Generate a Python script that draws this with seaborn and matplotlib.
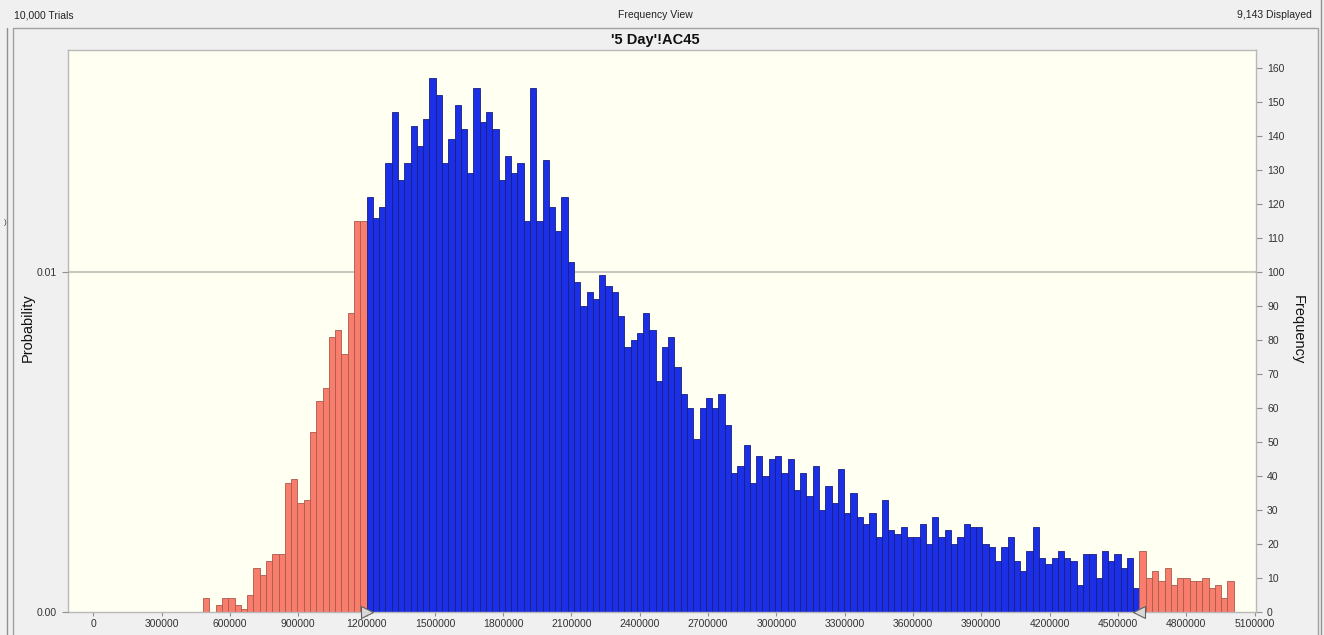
import numpy as np
import pandas as pd
import matplotlib
matplotlib.use("Agg")
import matplotlib.pyplot as plt
from matplotlib.patches import Rectangle
from matplotlib.lines import Line2D
import seaborn as sns

# histogram counts (bin width ~27,600)
bin_start = 482400
bin_width = 27600
left_tail = [4, 0, 2, 4, 4, 2, 1, 5, 13, 11, 15, 17, 17, 38, 39, 32, 33, 53, 62, 66,
             81, 83, 76, 88, 115, 115]
middle = [122, 116, 119, 132, 147, 127, 132, 143, 137, 145,
          157, 152, 132, 139, 149, 142, 129, 154, 144, 147,
          142, 127, 134, 129, 132, 115, 154, 115, 133, 119,
          112, 122, 103, 97, 90, 94, 92, 99, 96, 94,
          87, 78, 80, 82, 88, 83, 68, 78, 81, 72,
          64, 60, 51, 60, 63, 60, 64, 55, 41, 43,
          49, 38, 46, 40, 45, 46, 41, 45, 36, 41,
          34, 43, 30, 37, 32, 42, 29, 35, 28, 26,
          29, 22, 33, 24, 23, 25, 22, 22, 26, 20,
          28, 22, 24, 20, 22, 26, 25, 25, 20, 19,
          15, 19, 22, 15, 12, 18, 25, 16, 14, 16,
          18, 16, 15, 8, 17, 17, 10, 18, 15, 17,
          13, 16, 7]
right_tail = [18, 10, 12, 9, 13, 8, 10, 10, 9, 9, 10, 7, 8, 4, 9]

x_ticks = list(range(0, 5100001, 300000))
freq_ticks = list(range(0, 161, 10))
prob_ticks = [0.0, 0.01]
prob_labels = ["0.00", "0.01"]

header_left = "10,000 Trials"
header_mid = "Frequency View"
header_right = "9,143 Displayed"
title = "'5 Day'!AC45"

sns.set_style("white")
plt.rcParams["font.family"] = ["Liberation Sans", "DejaVu Sans"]

counts = left_tail + middle + right_tail
edges = bin_start + bin_width * np.arange(len(counts) + 1)
centers = (edges[:-1] + edges[1:]) / 2
zone = ["tail"] * len(left_tail) + ["mid"] * len(middle) + ["tail"] * len(right_tail)
df = pd.DataFrame({"value": centers, "count": counts, "zone": zone})

W, H = 1324, 635
fig = plt.figure(figsize=(W / 100, H / 100), dpi=100, facecolor="#f0f0f0")

# panel frame
fig.add_artist(Rectangle((13 / W, -0.01), (1318 - 13) / W, 1 - 28 / H + 0.01,
                         transform=fig.transFigure, fill=False, ec="#a0a0a0", lw=1))
fig.add_artist(Line2D([6.5 / W, 6.5 / W], [0, 1 - 28 / H], transform=fig.transFigure,
                      color="#909090", lw=1))
fig.add_artist(Line2D([1321 / W, 1321 / W], [0, 1], transform=fig.transFigure,
                      color="#909090", lw=1))

ax = fig.add_axes([68 / W, 1 - 612 / H, (1256 - 68) / W, (612 - 50) / H])
ax.set_facecolor("#fffff2")

n1 = len(left_tail)
n2 = n1 + len(middle)
parts = [
    (df.iloc[:n1], edges[:n1 + 1], "#f87d6c", "#a85a4c"),
    (df.iloc[n1:n2], edges[n1:n2 + 1], "#1b2fe6", "#1a1f80"),
    (df.iloc[n2:], edges[n2:], "#f87d6c", "#a85a4c"),
]
for part, bins, fc, ec in parts:
    sns.histplot(data=part, x="value", weights="count", bins=[float(b) for b in bins], ax=ax,
                 color=fc, edgecolor=ec, linewidth=0.6, alpha=1, zorder=2)

ax.axhline(100, color="#c8c8c0", lw=1.5, zorder=0)

# probability axis on the left (frequency / 10000)
axp = ax.twinx()
axp.set_ylim(0, 562 / 3.4 / 10000)
axp.yaxis.tick_left()
axp.set_yticks(prob_ticks)
axp.set_yticklabels(prob_labels)
axp.tick_params(axis="y", length=4, width=0.8, color="#909090", labelsize=7.5,
                labelcolor="#333333", pad=4, left=True, right=False,
                labelleft=True, labelright=False)
for s in axp.spines.values():
    s.set_visible(False)

ax.set_xlim(-111500, 5106500)
ax.set_ylim(0, 562 / 3.4)
ax.set_xticks(x_ticks)
ax.set_xticklabels([str(t) for t in x_ticks])
ax.yaxis.tick_right()
ax.set_yticks(freq_ticks)
ax.set_xlabel("")
ax.set_ylabel("")
ax.tick_params(axis="x", length=3, width=0.8, color="#909090", labelsize=7.5,
               labelcolor="#333333", pad=2, bottom=True)
ax.tick_params(axis="y", length=4, width=0.8, color="#909090", labelsize=7.5,
               labelcolor="#333333", pad=4, right=True, left=False,
               labelright=True, labelleft=False)
for s in ax.spines.values():
    s.set_color("#b8b8b8")
    s.set_linewidth(1)

# threshold markers
ax.plot([edges[n1]], [0], marker=">", ms=8, mfc="#d8d8d8", mec="#606060", mew=0.8,
        clip_on=False, zorder=5)
ax.plot([edges[n2]], [0], marker="<", ms=8, mfc="#d8d8d8", mec="#606060", mew=0.8,
        clip_on=False, zorder=5)

fig.text(28 / W, 1 - 328 / H, "Probability", rotation=90, ha="center", va="center",
         fontsize=10.5, color="#111111")
fig.text(1298 / W, 1 - 330 / H, "Frequency", rotation=270, ha="center", va="center",
         fontsize=10.5, color="#111111")

fig.text(14 / W, 1 - 15 / H, header_left, ha="left", va="center", fontsize=7.5, color="#222222")
fig.text(655 / W, 1 - 15 / H, header_mid, ha="center", va="center", fontsize=7.5, color="#222222")
fig.text(1312 / W, 1 - 15 / H, header_right, ha="right", va="center", fontsize=7.5, color="#222222")
fig.text(655 / W, 1 - 40 / H, title, ha="center", va="center", fontsize=10.5,
         fontweight="bold", color="#111111")
fig.text(5 / W, 1 - 222 / H, ")", ha="center", va="center", fontsize=6, color="#444444")

fig.savefig("out.png", dpi=100, facecolor=fig.get_facecolor())
